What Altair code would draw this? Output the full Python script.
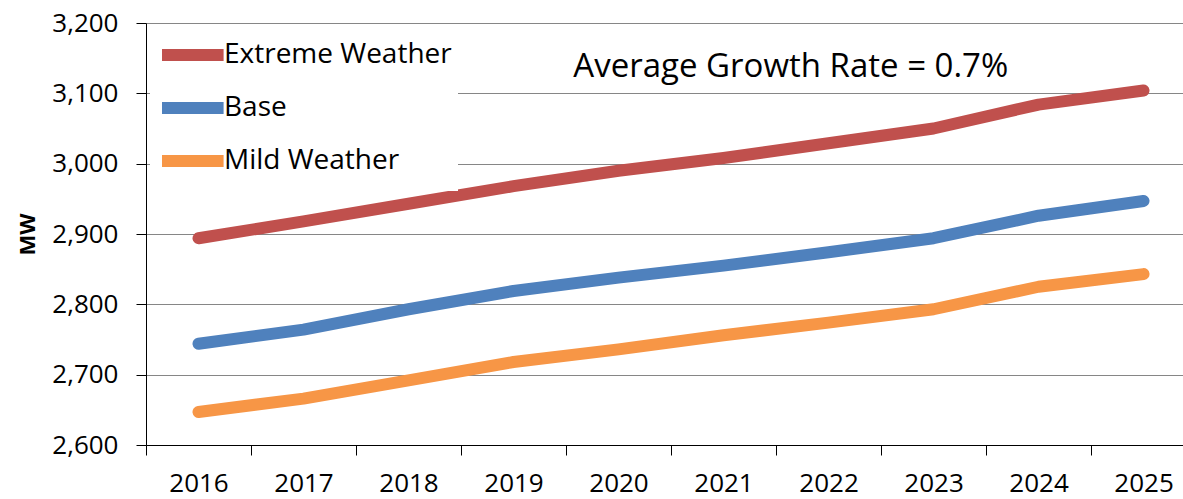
import altair as alt
import pandas as pd

years = [2016, 2017, 2018, 2019, 2020, 2021, 2022, 2023, 2024, 2025]
extreme = [2894, 2918, 2943, 2968, 2990, 3008, 3029, 3050, 3084, 3104]
base = [2744, 2764, 2793, 2819, 2838, 2855, 2874, 2894, 2926, 2947]
mild = [2647, 2666, 2692, 2718, 2736, 2756, 2774, 2793, 2825, 2843]
series = ["Extreme Weather", "Base", "Mild Weather"]
colors = ["#C0504D", "#4F81BD", "#F79646"]
y_ticks = [2600, 2700, 2800, 2900, 3000, 3100, 3200]
year_bounds = [y - 0.5 for y in years]
note_text = ["Average Growth Rate = 0.7%"]
note_year = [2019.57]
note_mw = [3137]

rows = []
for name, vals in zip(series, [extreme, base, mild]):
    for yr, v in zip(years, vals):
        rows.append({"Year": yr, "MW": v, "Series": name})
df = pd.DataFrame(rows)
note_df = pd.DataFrame({"Year": note_year, "MW": note_mw, "text": note_text})

FONT = "Open Sans"

x_enc = alt.X(
    "Year:Q",
    scale=alt.Scale(domain=[2015.5, 2025.376], nice=False, zero=False),
    axis=alt.Axis(
        values=year_bounds,
        labelExpr="format(datum.value + 0.5, 'd')",
        labelOffset=52.5,
        grid=False,
        tickSize=10,
        tickColor="black",
        domainColor="black",
        labelPadding=15,
        labelFont=FONT,
        labelFontSize=26,
        labelColor="black",
        labelOverlap=False,
        labelFlush=False,
        title=None,
    ),
)
y_enc = alt.Y(
    "MW:Q",
    scale=alt.Scale(domain=[2600, 3200], nice=False, zero=False),
    axis=alt.Axis(
        values=y_ticks,
        format=",.0f",
        grid=True,
        gridColor="#868686",
        gridWidth=1,
        tickSize=10,
        tickColor="black",
        domainColor="black",
        labelPadding=18,
        labelFont=FONT,
        labelFontSize=26,
        labelColor="black",
        title="MW",
        titleFont=FONT,
        titleFontSize=22,
        titleFontWeight="bold",
        titleColor="black",
        titlePadding=12,
    ),
)

lines = alt.Chart(df).mark_line(strokeWidth=12, strokeCap="round", strokeJoin="round").encode(
    x=x_enc,
    y=y_enc,
    color=alt.Color(
        "Series:N",
        scale=alt.Scale(domain=series, range=colors),
        legend=alt.Legend(
            orient="none",
            legendX=4,
            legendY=6,
            title=None,
            symbolType="M-1,0L3.4,0",
            symbolSize=784,
            symbolStrokeWidth=12,
            symbolFillColor="transparent",
            labelFont=FONT,
            labelFontSize=28,
            labelColor="black",
            labelLimit=500,
            labelOffset=28,
            rowPadding=5,
            padding=6,
            fillColor="white",
        ),
    ),
    detail="Series:N",
)

note = alt.Chart(note_df).mark_text(
    align="left", baseline="middle", fontSize=33, font=FONT, color="black"
).encode(x="Year:Q", y="MW:Q", text="text:N")

chart = alt.layer(lines, note).properties(
    width=1037,
    height=422,
    autosize=alt.AutoSizeParams(type="none"),
    padding={"left": 146, "top": 23, "right": 0, "bottom": 54},
    background="white",
).configure_view(stroke=None)

chart.save("out.html", embed_options={"renderer": "svg", "actions": False})
